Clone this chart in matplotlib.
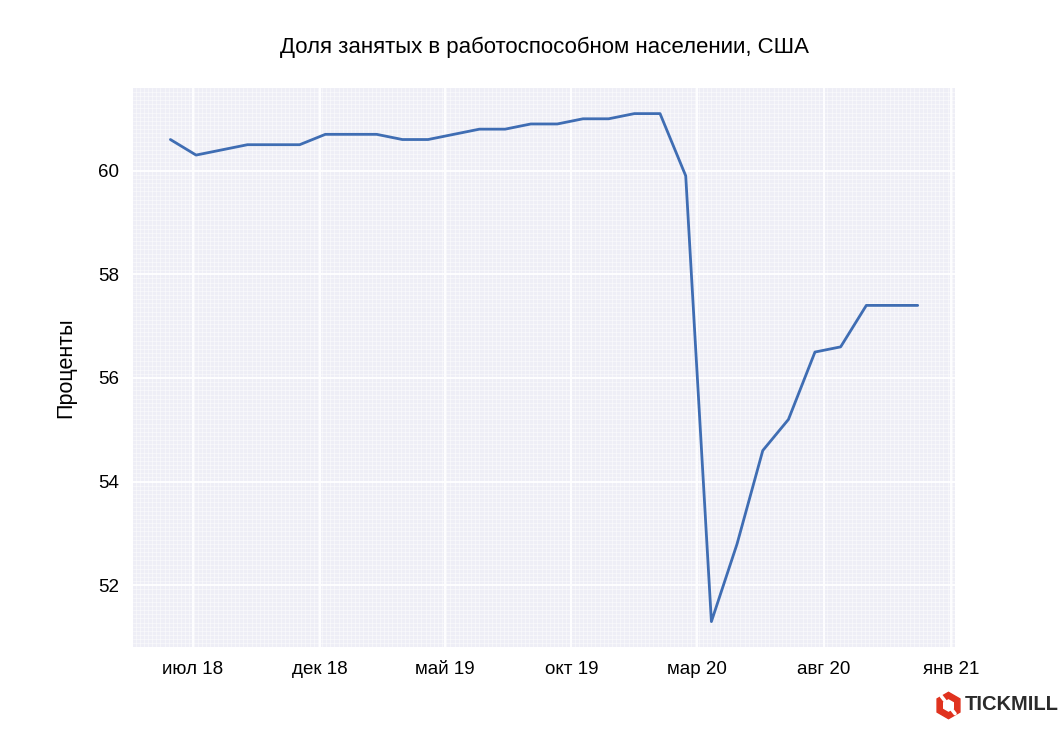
import matplotlib
matplotlib.use("Agg")
import matplotlib.pyplot as plt
import matplotlib.dates as mdates
from matplotlib.lines import Line2D
import pandas as pd
import seaborn as sns

# employment-population ratio, monthly observations as plotted
dates = ["2018-06-04", "2018-07-05", "2018-08-05", "2018-09-05", "2018-10-06",
         "2018-11-07", "2018-12-08", "2019-01-08", "2019-02-08", "2019-03-11",
         "2019-04-11", "2019-05-12", "2019-06-12", "2019-07-13", "2019-08-13",
         "2019-09-14", "2019-10-15", "2019-11-15", "2019-12-16", "2020-01-16",
         "2020-02-16", "2020-03-18", "2020-04-18", "2020-05-19", "2020-06-19",
         "2020-07-21", "2020-08-21", "2020-09-21", "2020-10-22", "2020-11-22"]
values = [60.6, 60.3, 60.4, 60.5, 60.5, 60.5, 60.7, 60.7, 60.7, 60.6,
          60.6, 60.7, 60.8, 60.8, 60.9, 60.9, 61.0, 61.0, 61.1, 61.1,
          59.9, 51.3, 52.8, 54.6, 55.2, 56.5, 56.6, 57.4, 57.4, 57.4]

tick_dates = ["2018-07-01", "2018-12-01", "2019-05-01", "2019-10-01",
              "2020-03-01", "2020-08-01", "2021-01-01"]
tick_labels = ["июл 18", "дек 18", "май 19", "окт 19", "мар 20", "авг 20", "янв 21"]

sns.set_style("darkgrid")
plt.rcParams['font.family'] = ['Liberation Sans', 'DejaVu Sans']
plt.rcParams['text.color'] = 'black'
plt.rcParams['axes.labelcolor'] = 'black'
plt.rcParams['xtick.color'] = 'black'
plt.rcParams['ytick.color'] = 'black'

fig = plt.figure(figsize=(10.6, 7.29), dpi=100)
ax = fig.add_axes([0.1255, 0.1125, 0.7755, 0.7665])
ax.set_facecolor('#EEEEF6')

x = pd.to_datetime(dates)
ax.plot(x, values, color='#3F6DB3', linewidth=2)

ax.set_xticks(pd.to_datetime(tick_dates))
ax.set_xticklabels(tick_labels, fontsize=13.5)
ax.xaxis.set_minor_locator(mdates.DayLocator(interval=5))
ax.set_yticks([52, 54, 56, 58, 60])
ax.tick_params(axis='y', labelsize=13.5)
ax.yaxis.set_minor_locator(matplotlib.ticker.MultipleLocator(0.08))
ax.tick_params(which='both', length=0, pad=10)

ax.grid(True, which='major', color='white', linewidth=1.3)
ax.grid(True, which='minor', color='white', linewidth=0.5, alpha=0.6)
for s in ax.spines.values():
    s.set_visible(False)

ax.set_ylabel('Проценты', fontsize=15.5, labelpad=16)
ax.set_title('Доля занятых в работоспособном населении, США', fontsize=16, pad=25)

# logo
fig.add_artist(Line2D([0.8945], [0.033], marker='h', markersize=19, color='#E0321E',
                      linestyle='none', transform=fig.transFigure))
fig.add_artist(Line2D([0.8945], [0.033], marker='h', markersize=8, color='white',
                      linestyle='none', transform=fig.transFigure))
fig.add_artist(Line2D([0.888, 0.901], [0.045, 0.021], color='white', linewidth=2.5,
                      transform=fig.transFigure))
fig.text(0.910, 0.033, 'TICKMILL', fontsize=14.5, fontweight='bold', color='#2B2B2B',
         va='center', ha='left')

plt.savefig('out.png', dpi=100)
